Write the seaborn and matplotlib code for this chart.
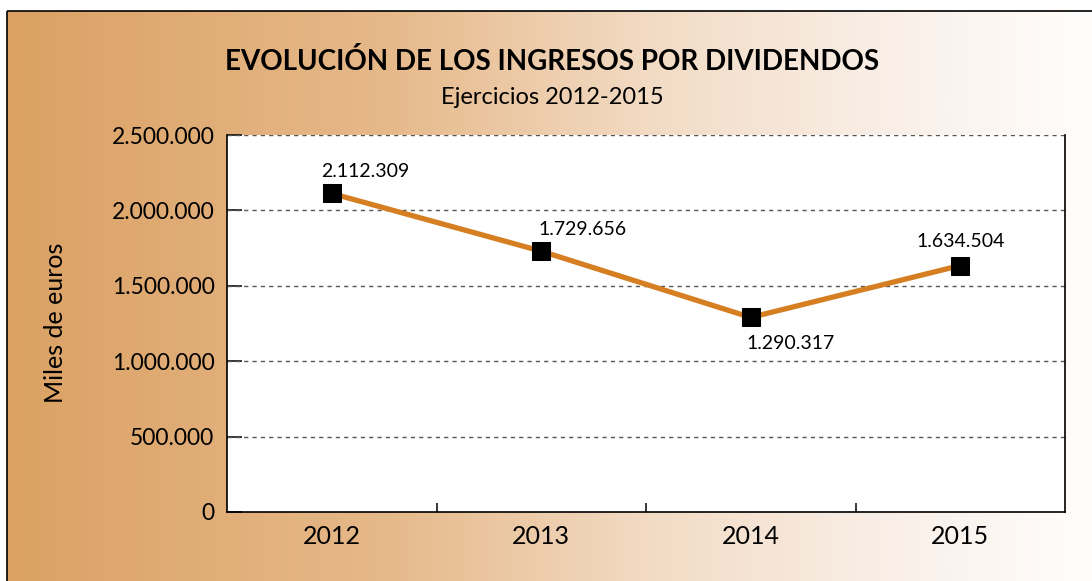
import numpy as np
import matplotlib
matplotlib.use("Agg")
import matplotlib.pyplot as plt
from matplotlib.colors import LinearSegmentedColormap
from matplotlib.patches import Rectangle
import seaborn as sns
import pandas as pd

# Data
years = ["2012", "2013", "2014", "2015"]
dividend_income = [2112309, 1729656, 1290317, 1634504]
value_labels = ["2.112.309", "1.729.656", "1.290.317", "1.634.504"]
y_ticks = [0, 500000, 1000000, 1500000, 2000000, 2500000]
y_tick_labels = ["0", "500.000", "1.000.000", "1.500.000", "2.000.000", "2.500.000"]

title = "EVOLUCIÓN DE LOS INGRESOS POR DIVIDENDOS"
subtitle = "Ejercicios 2012-2015"
y_title = "Miles de euros"

sns.set_theme(style="white")
plt.rcParams["font.family"] = ["Lato", "DejaVu Sans"]

W, H = 1092, 581
fig = plt.figure(figsize=(W / 100, H / 100), dpi=100)

# Warm horizontal gradient panel with a thin black frame
bg = fig.add_axes([0, 0, 1, 1], zorder=-10)
bg.set_xlim(0, W)
bg.set_ylim(H, 0)
bg.axis("off")
cmap = LinearSegmentedColormap.from_list(
    "warm", [(0.0, "#dba164"), (0.35, "#e6b98a"), (0.6, "#f3dcc6"), (0.8, "#f9eee6"), (1.0, "#fffefd")]
)
grad = np.linspace(0, 1, 512).reshape(1, -1)
bg.imshow(grad, cmap=cmap, aspect="auto", extent=(7, W + 5, H + 5, 11), interpolation="bilinear")
bg.add_patch(Rectangle((7, 11), W, H, fill=False, edgecolor="black", linewidth=1.2))

# Plot area
left, right, top, bottom = 227, 1065, 135, 512
ax = fig.add_axes([left / W, 1 - bottom / H, (right - left) / W, (bottom - top) / H])
ax.set_facecolor("white")

df = pd.DataFrame({"year": years, "value": dividend_income})
sns.lineplot(
    data=df, x="year", y="value", ax=ax, sort=False,
    color="#d57f22", linewidth=3.8,
    marker="s", markersize=13, markerfacecolor="black", markeredgecolor="black",
    zorder=5,
)

ax.set_xlim(-0.5, len(years) - 0.5)
ax.set_ylim(0, 2500000)
ax.set_yticks(y_ticks)
ax.set_yticklabels(y_tick_labels, fontsize=16.5)
ax.set_xticks(range(len(years)))
ax.set_xticklabels(years, fontsize=18)
ax.set_xticks([0.5, 1.5, 2.5], minor=True)
ax.set_xlabel("")
ax.set_ylabel("")

ax.tick_params(axis="x", which="major", length=0, pad=9, colors="black")
ax.tick_params(axis="x", which="minor", direction="in", length=6.5, width=1.1, color="black", bottom=True)
ax.tick_params(axis="y", which="major", direction="in", length=11, width=1.1, color="black", left=True, pad=9)
for lbl in ax.get_xticklabels() + ax.get_yticklabels():
    lbl.set_color("black")

# Dashed horizontal grid
for v in y_ticks[1:]:
    ax.axhline(v, color="#555555", linewidth=1.0, linestyle=(0, (3, 3)), zorder=1)

for side in ["left", "bottom", "right"]:
    ax.spines[side].set_visible(True)
    ax.spines[side].set_color("black")
    ax.spines[side].set_linewidth(1.2)
ax.spines["top"].set_visible(False)

# Value annotations
offsets = [(24, 11.5), (30, 11.5), (29, -12.5), (0, 13.5)]
for i, (val, txt) in enumerate(zip(dividend_income, value_labels)):
    dx, dy = offsets[i]
    ax.annotate(
        txt, xy=(i, val), xytext=(dx, dy), textcoords="offset points",
        ha="center", va="baseline" if dy > 0 else "top", fontsize=14, color="black", zorder=6,
    )

fig.text(552 / W, 1 - 62 / H, title, ha="center", va="center", fontsize=20, fontweight="bold", color="black")
fig.text(552 / W, 1 - 97 / H, subtitle, ha="center", va="center", fontsize=17, color="black")
fig.text(56 / W, 1 - 323 / H, y_title, ha="center", va="center", rotation=90, fontsize=18, color="black")

fig.savefig("out.png", dpi=100)
